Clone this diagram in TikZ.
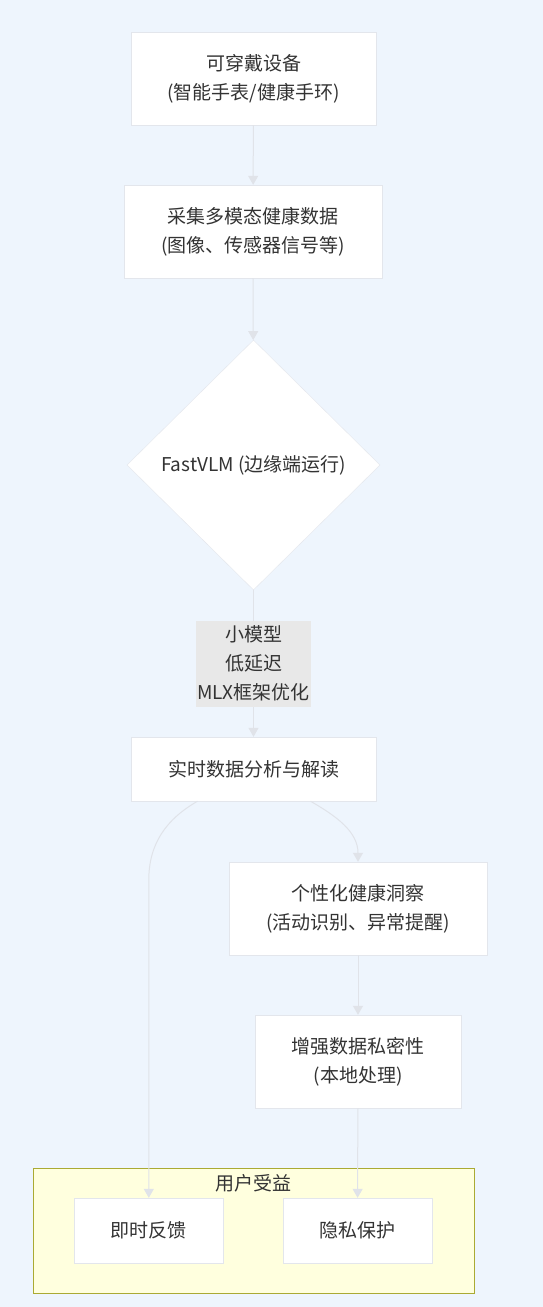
\documentclass[tikz,border=0pt]{standalone}
\usepackage{fontspec}
\newfontfamily\cjk{Noto Sans CJK SC}
\usetikzlibrary{arrows.meta,shapes.geometric}
\definecolor{bgblue}{HTML}{EEF5FD}
\definecolor{boxline}{HTML}{E3E6EC}
\definecolor{arrowline}{HTML}{E0E3E9}
\definecolor{txt}{HTML}{333333}
\definecolor{grpfill}{HTML}{FFFFDE}
\definecolor{grpline}{HTML}{AAAA33}
\definecolor{lblfill}{HTML}{E8E8E8}

\tikzset{
  lbl/.style={fill=lblfill,draw=none,align=center,text=txt,inner xsep=1.5pt,inner ysep=0pt,
              minimum height=86pt,font=\cjk\fontsize{19}{29}\selectfont},
}

\begin{document}
\begin{tikzpicture}[x=1pt,y=-1pt]
\fill[bgblue] (0,0) rectangle (543,1307);
\useasboundingbox (0,0) rectangle (543,1307);

% group of benefits
\draw[grpline,fill=grpfill] (33,1168) rectangle (474,1293);
\node[text=txt,font=\cjk\fontsize{19}{24}\selectfont] (grp) at (253.5,1183) {用户受益};

\begin{scope}[every node/.style={draw=boxline,fill=white,text=txt,align=center,inner sep=0pt,
                                 font=\cjk\fontsize{19}{29}\selectfont}]
    \node[minimum width=245,minimum height=93] (dev) at (253.5,78.5) {可穿戴设备\\(智能手表/健康手环)};
    \node[minimum width=258,minimum height=93] (col) at (253,231.5) {采集多模态健康数据\\(图像、传感器信号等)};
    \node[diamond,minimum width=253,minimum height=250] (vlm) at (253.5,465) {FastVLM (边缘端运行)};
    \node[minimum width=245,minimum height=64] (dat) at (253.5,769) {实时数据分析与解读};
    \node[minimum width=258,minimum height=93] (ins) at (358,908.5) {个性化健康洞察\\(活动识别、异常提醒)};
    \node[minimum width=206,minimum height=93] (prv) at (358,1061.5) {增强数据私密性\\(本地处理)};
    \node[minimum width=149,minimum height=65] (fb) at (148.8,1230.5) {即时反馈};
    \node[minimum width=149,minimum height=65] (pp) at (357.5,1230.5) {隐私保护};
\end{scope}

\coordinate (bend) at (148.8,880);

\begin{scope}[>={Triangle[length=9pt,width=10pt]},
              every edge/.style={draw=arrowline,line width=1pt}]
    \path [->] (dev) edge (col);
    \path [->] (col) edge (vlm);
    \path [->] (vlm) edge node[lbl] {小模型\\低延迟\\MLX框架优化} (dat);
    \path [->] (ins) edge (prv);
    \path [->] (prv) edge (pp);
    \path [->] ([xshift=57pt]dat.south) edge[out=-30,in=90] (ins.north);
\end{scope}
\draw[arrowline,line width=1pt,-{Triangle[length=9pt,width=10pt]}]
    ([xshift=-56pt]dat.south) to[out=-150,in=90] (bend) -- (fb.north);
\end{tikzpicture}
\end{document}
